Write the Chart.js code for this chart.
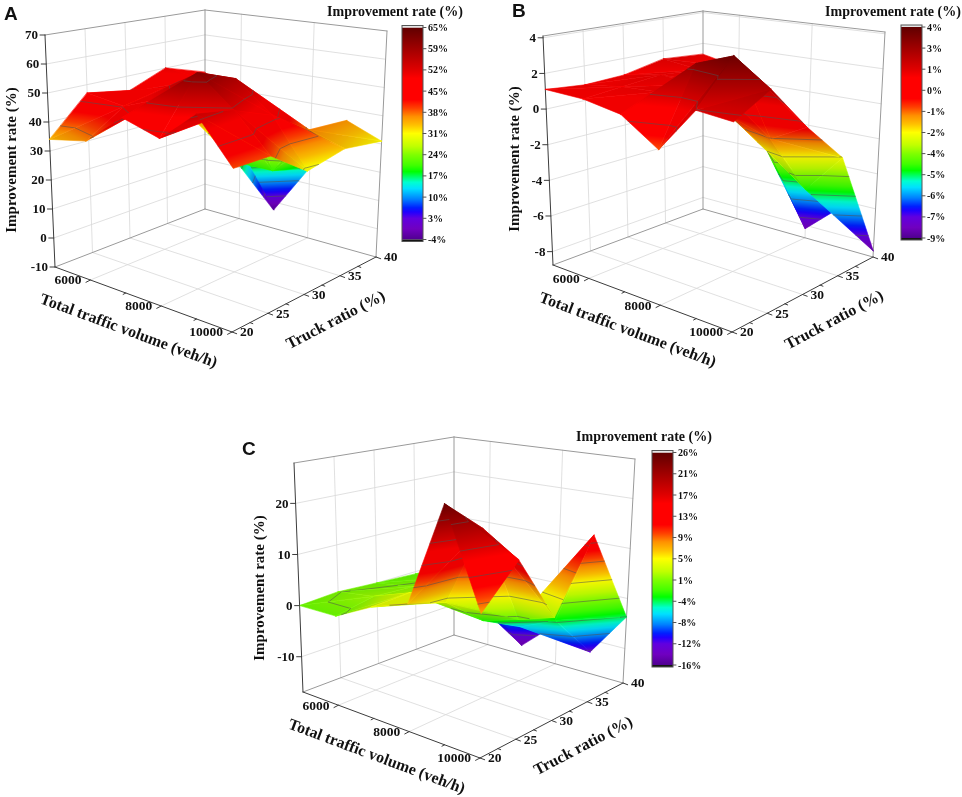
<!DOCTYPE html>
<html>
<head>
<meta charset="utf-8">
<title>Improvement rate surfaces</title>
<script src="https://cdn.jsdelivr.net/npm/chart.js@4.4.1/dist/chart.umd.min.js"></script>
<style>
  body { margin: 0; background: #fff; }
  #page { position: relative; width: 962px; height: 797px; overflow: hidden; }
  #page canvas { position: absolute; }
</style>
</head>
<body>
<div id="page">
  <canvas id="chartA" width="480" height="380" style="left:0;top:0"></canvas>
  <canvas id="chartB" width="482" height="380" style="left:480px;top:0"></canvas>
  <canvas id="chartC" width="500" height="377" style="left:230px;top:420px"></canvas>
</div>
<script>
// grid of the surfaces
const volumes = [5000, 6000, 7000, 8000, 9000, 10000];
const truckRatios = [20, 25, 30, 35, 40];
const volumeTicks = [6000, 8000, 10000];
const volumeMinorTicks = [7000, 9000];
const truckTicks = [20, 25, 30, 35, 40];
const truckMinorTicks = [22.5, 27.5, 32.5, 37.5];

// improvement rate (%): one row per truck ratio (20 -> 40), one value per volume (5000 -> 10000)
const rateA = [
  [34, 36.5, 47, 43, 53, 39],
  [47, 45, 50, 61, 51, 39],
  [44, 48, 56, 56, 46, 30],
  [50, 48, 20, 20, 37, 33],
  [45, 30, -3, 16, 36, 31]
];
const rateB = [
  [1.1, 1.0, 0.6, -0.8, 1.6, 1.4],
  [0.9, 1.2, 1.3, 3.2, 3.9, 2.5],
  [1.0, 1.4, 1.2, -0.3, -1.0, 0.0],
  [1.5, 1.2, 0.5, -3.0, -4.5, -2.3],
  [1.3, 0.8, -2.5, -8.2, -6.4, -8.4]
];
const rateC = [
  [0, 0, 3.6, 6, 25, 7.5],
  [0.5, 1.5, 4, 4, 19, 14.6],
  [0, 1, 2, -2, 0, 2],
  [-0.5, 0.5, -2, -6, -3, 15],
  [-1, 0, -15, -8.5, -12.5, -3.7]
];

const zTicksA = [-10, 0, 10, 20, 30, 40, 50, 60, 70];
const zTicksB = [-8, -6, -4, -2, 0, 2, 4];
const zTicksC = [-10, 0, 10, 20];
const zRangeA = [-10, 70];
const zRangeB = [-8.75, 4.1];
const zRangeC = [-16.9, 27.9];

const barLabelsA = ['65%', '59%', '52%', '45%', '38%', '31%', '24%', '17%', '10%', '3%', '-4%'];
const barLabelsB = ['4%', '3%', '1%', '0%', '-1%', '-2%', '-4%', '-5%', '-6%', '-7%', '-9%'];
const barLabelsC = ['26%', '21%', '17%', '13%', '9%', '5%', '1%', '-4%', '-8%', '-12%', '-16%'];
const colorRangeA = [-3.6, 65.4];
const colorRangeB = [-8.7, 4.2];
const colorRangeC = [-16.3, 25.9];

const SERIF = "'Liberation Serif', 'Times New Roman', serif";
const SANS = "'Liberation Sans', Arial, sans-serif";

// rainbow palette, 0 = low end, 1 = high end
const palette = [
  [0.00, '#500090'], [0.05, '#7000c0'], [0.10, '#6000e0'], [0.13, '#2000ff'],
  [0.15, '#0020ff'], [0.19, '#0080ff'], [0.24, '#00e0ff'], [0.27, '#00ffd0'],
  [0.32, '#00ff00'], [0.35, '#40ff00'], [0.40, '#80ff00'], [0.44, '#c0ff00'],
  [0.50, '#ffff00'], [0.54, '#ffc000'], [0.58, '#ff9000'], [0.62, '#ff4000'],
  [0.66, '#ff0000'], [0.76, '#ff0000'], [0.80, '#e00000'], [0.90, '#a00000'],
  [0.95, '#800000'], [1.00, '#600000']
];

function hexRgb(h) {
  return [parseInt(h.slice(1, 3), 16), parseInt(h.slice(3, 5), 16), parseInt(h.slice(5, 7), 16)];
}
function colorAt(f) {
  f = Math.max(0, Math.min(1, f));
  for (let i = 1; i < palette.length; i++) {
    if (f <= palette[i][0]) {
      const [f0, c0] = palette[i - 1], [f1, c1] = palette[i];
      const t = (f - f0) / (f1 - f0), a = hexRgb(c0), b = hexRgb(c1);
      return `rgb(${a.map((v, k) => Math.round(v + (b[k] - v) * t)).join(',')})`;
    }
  }
  return palette[palette.length - 1][1];
}
function addStops(grad) {
  palette.forEach(([f, c]) => grad.addColorStop(f, c));
}

// box corners: left (min vol, min truck), front (max vol, min truck), right (max vol, max truck), back (min vol, max truck)
const layoutA = {
  floor: [[55, 267], [232, 332], [376, 257], [205, 209]],
  roof: [[45, 35], [234, 65], [387, 31], [205, 10]],
  bar: { x: 402, y: 25.5, w: 21, h: 216 }, barTitle: [395, 12], letter: [4, 15], zTitle: [12, 160]
};
const layoutB = {
  floor: [[73, 265], [252, 332], [393, 257], [223, 209]],
  roof: [[63, 36], [254, 66], [405, 32], [223, 11]],
  bar: { x: 421, y: 25, w: 21, h: 215 }, barTitle: [413, 12], letter: [32, 12], zTitle: [35, 159]
};
const layoutC = {
  floor: [[73, 272], [250, 338], [393, 263], [224, 215]],
  roof: [[64, 43], [252, 73], [405, 39], [224, 17]],
  bar: { x: 422, y: 30.5, w: 21, h: 216.5 }, barTitle: [414, 17], letter: [12, 30], zTitle: [30, 168]
};

function bilinear(q, u, w) {
  const a = (1 - u) * (1 - w), b = u * (1 - w), c = u * w, d = (1 - u) * w;
  return [a * q[0][0] + b * q[1][0] + c * q[2][0] + d * q[3][0],
          a * q[0][1] + b * q[1][1] + c * q[2][1] + d * q[3][1]];
}
function project(layout, u, w, s) {
  const p0 = bilinear(layout.floor, u, w), p1 = bilinear(layout.roof, u, w);
  return { x: p0[0] + (p1[0] - p0[0]) * s, y: p0[1] + (p1[1] - p0[1]) * s };
}
const uOf = v => (v - volumes[0]) / (volumes[volumes.length - 1] - volumes[0]);
const wOf = t => (t - truckRatios[0]) / (truckRatios[truckRatios.length - 1] - truckRatios[0]);

const VIEW = [0.653, -0.653, 0.383];

function surfacePlugin(panel) {
  return {
    id: 'surface3d',
    afterDatasetsDraw(chart) {
      const ctx = chart.ctx, xs = chart.scales.x, ys = chart.scales.y;
      const lay = panel.layout;
      const [zLo, zHi] = panel.zRange;
      const [cLo, cHi] = panel.colorRange;
      const sOf = z => (z - zLo) / (zHi - zLo);
      const toPx = pt => ({ x: xs.getPixelForValue(pt.x), y: ys.getPixelForValue(pt.y) });
      const at = (u, w, s) => toPx(project(lay, u, w, s));
      const line = (a, b, color, width) => {
        ctx.beginPath(); ctx.moveTo(a.x, a.y); ctx.lineTo(b.x, b.y);
        ctx.strokeStyle = color; ctx.lineWidth = width; ctx.stroke();
      };
      ctx.save();
      ctx.lineCap = 'round';

      // walls and floor grid
      const grid = '#d8d8d8';
      truckTicks.map(wOf).filter(w => w > 0.001 && w < 0.999).forEach(w => {
        line(at(0, w, 0), at(0, w, 1), grid, 0.8);
        line(at(0, w, 0), at(1, w, 0), grid, 0.8);
      });
      volumeTicks.map(uOf).filter(u => u > 0.001 && u < 0.999).forEach(u => {
        line(at(u, 1, 0), at(u, 1, 1), grid, 0.8);
        line(at(u, 0, 0), at(u, 1, 0), grid, 0.8);
      });
      panel.zTicks.map(sOf).filter(s => s > 0.001 && s < 0.999).forEach(s => {
        line(at(0, 0, s), at(0, 1, s), grid, 0.8);
        line(at(0, 1, s), at(1, 1, s), grid, 0.8);
      });
      const edge = '#9a9a9a';
      line(at(0, 1, 0), at(0, 1, 1), edge, 1);
      line(at(1, 1, 0), at(1, 1, 1), edge, 1);
      line(at(0, 0, 1), at(0, 1, 1), edge, 1);
      line(at(0, 1, 1), at(1, 1, 1), edge, 1);
      line(at(0, 0, 0), at(0, 1, 0), edge, 1);
      line(at(0, 1, 0), at(1, 1, 0), edge, 1);
      const axis = '#3c3c3c';
      line(at(0, 0, 0), at(0, 0, 1), axis, 1);
      line(at(0, 0, 0), at(1, 0, 0), axis, 1);
      line(at(1, 0, 0), at(1, 1, 0), axis, 1);

      // surface, far triangles first
      const nodes = chart.data.datasets[0].data.map(toPx);
      const nu = volumes.length;
      const tris = [];
      for (let wi = 0; wi < truckRatios.length - 1; wi++) {
        for (let ui = 0; ui < nu - 1; ui++) {
          const a = wi * nu + ui, b = a + 1, c = a + nu + 1, d = a + nu;
          tris.push([a, b, c], [a, c, d]);
        }
      }
      const uvs = idx => {
        const ui = idx % nu, wi = Math.floor(idx / nu);
        return [uOf(volumes[ui]), wOf(truckRatios[wi]), sOf(panel.rate[wi][ui])];
      };
      const zOf = idx => panel.rate[Math.floor(idx / nu)][idx % nu];
      const near = t => t.reduce((acc, i) => { const [u, w, s] = uvs(i); return acc + u - w + 0.64 * s; }, 0);
      tris.sort((p, q) => near(p) - near(q));
      const levels = [];
      for (let k = 1; k < 10; k++) levels.push(cLo + (cHi - cLo) * k / 10);

      tris.forEach(t => {
        const P = t.map(i => nodes[i]), Z = t.map(zOf);
        const e1x = P[1].x - P[0].x, e1y = P[1].y - P[0].y;
        const e2x = P[2].x - P[0].x, e2y = P[2].y - P[0].y;
        const det = e1x * e2y - e1y * e2x;
        if (Math.abs(det) < 0.05) return;
        const a = ((Z[1] - Z[0]) * e2y - (Z[2] - Z[0]) * e1y) / det;
        const b = (e1x * (Z[2] - Z[0]) - e2x * (Z[1] - Z[0])) / det;
        const g2 = a * a + b * b;
        let style;
        if (g2 < 1e-9) {
          style = colorAt(((Z[0] + Z[1] + Z[2]) / 3 - cLo) / (cHi - cLo));
        } else {
          const t0 = (cLo - Z[0]) / g2, t1 = (cHi - Z[0]) / g2;
          style = ctx.createLinearGradient(P[0].x + a * t0, P[0].y + b * t0, P[0].x + a * t1, P[0].y + b * t1);
          addStops(style);
        }
        ctx.beginPath();
        ctx.moveTo(P[0].x, P[0].y); ctx.lineTo(P[1].x, P[1].y); ctx.lineTo(P[2].x, P[2].y);
        ctx.closePath();
        ctx.fillStyle = style; ctx.fill();
        ctx.strokeStyle = style; ctx.lineWidth = 0.6; ctx.stroke();
        // flat shading from the viewing direction
        const Q = t.map(uvs).map(([u, w, s]) => [u, w, s * 1.1]);
        const v1 = [0, 1, 2].map(k => Q[1][k] - Q[0][k]), v2 = [0, 1, 2].map(k => Q[2][k] - Q[0][k]);
        const n = [v1[1] * v2[2] - v1[2] * v2[1], v1[2] * v2[0] - v1[0] * v2[2], v1[0] * v2[1] - v1[1] * v2[0]];
        const nl = Math.hypot(n[0], n[1], n[2]) || 1;
        const lam = Math.abs(n[0] * VIEW[0] + n[1] * VIEW[1] + n[2] * VIEW[2]) / nl;
        ctx.fillStyle = `rgba(0,0,0,${(0.14 * (1 - lam)).toFixed(3)})`;
        ctx.fill();
        // contour lines
        levels.forEach(lv => {
          const cut = [];
          for (let k = 0; k < 3; k++) {
            const i = k, j = (k + 1) % 3;
            if ((Z[i] - lv) * (Z[j] - lv) < 0) {
              const f = (lv - Z[i]) / (Z[j] - Z[i]);
              cut.push({ x: P[i].x + (P[j].x - P[i].x) * f, y: P[i].y + (P[j].y - P[i].y) * f });
            }
          }
          if (cut.length === 2) line(cut[0], cut[1], 'rgba(80,80,80,0.7)', 0.8);
        });
      });

      // tick marks and labels
      ctx.fillStyle = '#111';
      ctx.font = `bold 13px ${SERIF}`;
      ctx.textBaseline = 'middle';
      ctx.textAlign = 'right';
      panel.zTicks.forEach(z => {
        const p = at(0, 0, sOf(z));
        line(p, { x: p.x - 5, y: p.y }, axis, 1);
        ctx.fillText(String(z), p.x - 7, p.y + 1);
      });
      const f0 = at(1, 0, 0), r0 = at(1, 1, 0), l0 = at(0, 0, 0);
      const dv = { x: f0.x - r0.x, y: f0.y - r0.y }, dvl = Math.hypot(dv.x, dv.y);
      const dt = { x: f0.x - l0.x, y: f0.y - l0.y }, dtl = Math.hypot(dt.x, dt.y);
      ctx.font = `bold 13.5px ${SERIF}`;
      volumeMinorTicks.forEach(v => {
        const p = at(uOf(v), 0, 0);
        line(p, { x: p.x + dv.x / dvl * 3, y: p.y + dv.y / dvl * 3 }, axis, 1);
      });
      volumeTicks.forEach(v => {
        const p = at(uOf(v), 0, 0);
        line(p, { x: p.x + dv.x / dvl * 5, y: p.y + dv.y / dvl * 5 }, axis, 1);
        ctx.fillText(String(v), p.x - 9, p.y + 1);
      });
      ctx.textAlign = 'left';
      truckMinorTicks.forEach(tr => {
        const p = at(1, wOf(tr), 0);
        line(p, { x: p.x + dt.x / dtl * 3, y: p.y + dt.y / dtl * 3 }, axis, 1);
      });
      truckTicks.forEach(tr => {
        const p = at(1, wOf(tr), 0);
        line(p, { x: p.x + dt.x / dtl * 5, y: p.y + dt.y / dtl * 5 }, axis, 1);
        ctx.fillText(String(tr), p.x + 8, p.y + 1);
      });

      // axis titles
      ctx.font = `bold 16px ${SERIF}`;
      ctx.textAlign = 'center';
      const drawRotated = (text, x, y, ang) => {
        ctx.save(); ctx.translate(x, y); ctx.rotate(ang); ctx.fillText(text, 0, 0); ctx.restore();
      };
      drawRotated('Total traffic volume (veh/h)', (l0.x + f0.x) / 2 - 15, (l0.y + f0.y) / 2 + 32,
        Math.atan2(f0.y - l0.y, f0.x - l0.x));
      drawRotated('Truck ratio (%)', (f0.x + r0.x) / 2 + 32, (f0.y + r0.y) / 2 + 26,
        Math.atan2(r0.y - f0.y, r0.x - f0.x));
      ctx.font = `bold 15px ${SERIF}`;
      drawRotated('Improvement rate (%)', lay.zTitle[0], lay.zTitle[1], -Math.PI / 2);

      // colour bar
      const bar = lay.bar;
      const gTop = bar.y + 2, gBot = bar.y + bar.h - 2;
      const bg = ctx.createLinearGradient(0, gBot, 0, gTop);
      addStops(bg);
      ctx.fillStyle = bg;
      ctx.fillRect(bar.x, gTop, bar.w, gBot - gTop);
      ctx.fillStyle = '#e6e6e6';
      ctx.fillRect(bar.x, bar.y, bar.w, gTop - bar.y);
      ctx.fillStyle = '#151515';
      ctx.fillRect(bar.x, gBot, bar.w, bar.y + bar.h - gBot);
      ctx.strokeStyle = '#555'; ctx.lineWidth = 1;
      ctx.strokeRect(bar.x, bar.y, bar.w, bar.h);
      ctx.font = `bold 10px ${SERIF}`;
      ctx.textAlign = 'left';
      ctx.fillStyle = '#111';
      panel.barLabels.forEach((lab, k) => {
        const y = gTop + (gBot - gTop) * k / (panel.barLabels.length - 1);
        line({ x: bar.x + bar.w, y }, { x: bar.x + bar.w + 3, y }, '#555', 1);
        ctx.fillText(lab, bar.x + bar.w + 5, y + 1);
      });
      ctx.font = `bold 14px ${SERIF}`;
      ctx.textAlign = 'center';
      ctx.fillText('Improvement rate (%)', lay.barTitle[0], lay.barTitle[1]);

      // panel letter
      ctx.font = `bold 19px ${SANS}`;
      ctx.textAlign = 'left';
      ctx.fillText(panel.letter, lay.letter[0], lay.letter[1]);
      ctx.restore();
    }
  };
}

function buildChart(canvasId, panel) {
  const canvas = document.getElementById(canvasId);
  const W = canvas.width, H = canvas.height;
  const [zLo, zHi] = panel.zRange;
  const nodes = [];
  panel.rate.forEach((row, wi) => row.forEach((z, ui) => {
    nodes.push(project(panel.layout, uOf(volumes[ui]), wOf(truckRatios[wi]), (z - zLo) / (zHi - zLo)));
  }));
  return new Chart(canvas, {
    type: 'scatter',
    data: { datasets: [{ data: nodes, pointRadius: 0, pointHoverRadius: 0, showLine: false }] },
    options: {
      responsive: false,
      animation: false,
      events: [],
      layout: { padding: 0 },
      scales: {
        x: { type: 'linear', display: false, min: 0, max: W },
        y: { type: 'linear', display: false, min: 0, max: H, reverse: true }
      },
      plugins: { legend: { display: false }, tooltip: { enabled: false } }
    },
    plugins: [surfacePlugin(panel)]
  });
}

buildChart('chartA', { letter: 'A', rate: rateA, zTicks: zTicksA, zRange: zRangeA,
  barLabels: barLabelsA, colorRange: colorRangeA, layout: layoutA });
buildChart('chartB', { letter: 'B', rate: rateB, zTicks: zTicksB, zRange: zRangeB,
  barLabels: barLabelsB, colorRange: colorRangeB, layout: layoutB });
buildChart('chartC', { letter: 'C', rate: rateC, zTicks: zTicksC, zRange: zRangeC,
  barLabels: barLabelsC, colorRange: colorRangeC, layout: layoutC });
</script>
</body>
</html>
